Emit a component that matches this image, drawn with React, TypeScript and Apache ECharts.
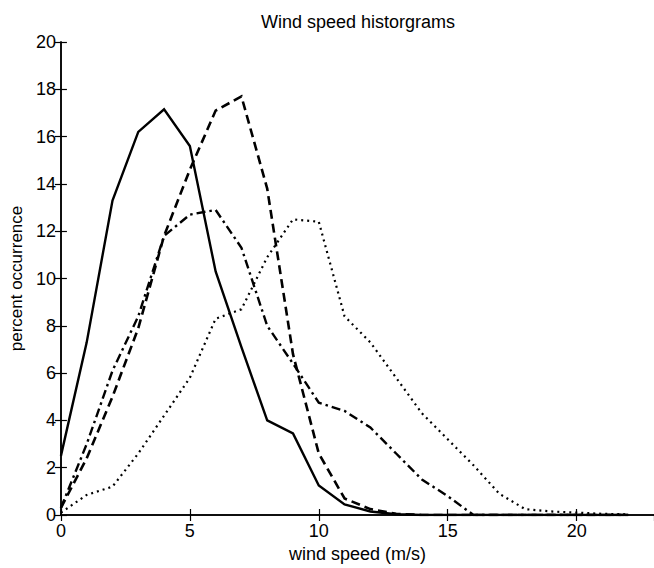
import React, { useEffect, useRef } from "react";
import * as echarts from "echarts";

const windSpeed = [0, 1, 2, 3, 4, 5, 6, 7, 8, 9, 10, 11, 12, 13, 14, 15, 16, 17, 18, 19, 20, 21, 22];
const solidSeries = [2.5, 7.3, 13.3, 16.2, 17.15, 15.6, 10.3, 7.1, 4.0, 3.45, 1.25, 0.45, 0.15, 0.03, 0, 0, 0, 0, 0, 0, 0, 0, 0];
const dashedSeries = [0.3, 2.4, 5.0, 7.9, 11.8, 14.6, 17.1, 17.7, 13.8, 6.8, 2.6, 0.7, 0.25, 0.05, 0, 0, 0, 0, 0, 0, 0, 0, 0];
const dashDotSeries = [0.3, 3.0, 6.1, 8.4, 11.8, 12.7, 12.9, 11.3, 8.0, 6.4, 4.75, 4.4, 3.7, 2.6, 1.5, 0.8, 0, 0, 0, 0, 0, 0, 0];
const dottedSeries = [0.1, 0.85, 1.2, 2.6, 4.2, 5.8, 8.3, 8.7, 10.9, 12.5, 12.4, 8.4, 7.3, 5.8, 4.3, 3.2, 2.1, 0.9, 0.25, 0.15, 0.1, 0.05, 0.03];

const titleText = "Wind speed historgrams";
const xName = "wind speed (m/s)";
const yName = "percent occurrence";

const FONT = "'Liberation Sans', Arial, Helvetica, sans-serif";

function pairs(vals: number[]) {
  return windSpeed.map((x, i) => [x, vals[i]]);
}

export default function App() {
  const ref = useRef<HTMLDivElement>(null);
  useEffect(() => {
    if (!ref.current) return;
    const chart = echarts.init(ref.current, undefined, { renderer: "svg" });
    const axisLine = { show: true, lineStyle: { color: "#000", width: 1.5 } };
    const lineBase = (type: any, width: number) => ({
      type: "line",
      showSymbol: false,
      symbol: "none",
      lineStyle: { color: "#000", width, type, cap: "butt", join: "miter" },
      clip: true,
      z: 3,
    });
    chart.setOption({
      animation: false,
      backgroundColor: "#fff",
      graphic: [
        {
          type: "text",
          x: 358,
          y: 22,
          style: {
            text: titleText,
            textAlign: "center",
            textVerticalAlign: "middle",
            fontFamily: FONT,
            fontSize: 18,
            fill: "#000",
          },
        },
      ],
      grid: { left: 52.5, top: 42, width: 603.75, height: 476, containLabel: false },
      xAxis: [
        {
          type: "value",
          position: "bottom",
          min: 0,
          max: 23,
          interval: 5,
          axisLine,
          axisTick: { show: true, inside: true, length: 6, lineStyle: { color: "#000", width: 1.2 } },
          axisLabel: {
            show: true,
            showMaxLabel: false,
            color: "#000",
            fontFamily: FONT,
            fontSize: 18,
            margin: 7,
          },
          splitLine: { show: false },
          name: xName,
          nameLocation: "middle",
          nameGap: 30,
          nameTextStyle: { color: "#000", fontFamily: FONT, fontSize: 18 },
        },
        {
          type: "value",
          position: "top",
          min: 0,
          max: 23,
          interval: 5,
          axisLine,
          axisTick: { show: true, inside: true, length: 6, lineStyle: { color: "#000", width: 1.2 } },
          axisLabel: { show: false },
          splitLine: { show: false },
        },
      ],
      yAxis: [
        {
          type: "value",
          position: "left",
          min: 0,
          max: 20,
          interval: 2,
          axisLine,
          axisTick: { show: true, inside: true, length: 6, lineStyle: { color: "#000", width: 1.2 } },
          axisLabel: { color: "#000", fontFamily: FONT, fontSize: 18, margin: 5 },
          splitLine: { show: false },
          name: yName,
          nameLocation: "middle",
          nameGap: 26,
          nameTextStyle: { color: "#000", fontFamily: FONT, fontSize: 17 },
        },
        {
          type: "value",
          position: "right",
          min: 0,
          max: 20,
          interval: 2,
          axisLine,
          axisTick: { show: true, inside: true, length: 6, lineStyle: { color: "#000", width: 1.2 } },
          axisLabel: { show: false },
          splitLine: { show: false },
        },
      ],
      series: [
        { ...lineBase("solid", 2.4), name: "solid", data: pairs(solidSeries) },
        { ...lineBase([9, 5], 2.6), name: "dashed", data: pairs(dashedSeries) },
        { ...lineBase([9, 4, 2.5, 4], 2.4), name: "dash-dot", data: pairs(dashDotSeries) },
        { ...lineBase([2, 4], 2.2), name: "dotted", data: pairs(dottedSeries) },
      ],
    });
    return () => chart.dispose();
  }, []);
  return <div ref={ref} style={{ width: 654, height: 568, position: "absolute", left: 0, top: 0, overflow: "hidden" }} />;
}
